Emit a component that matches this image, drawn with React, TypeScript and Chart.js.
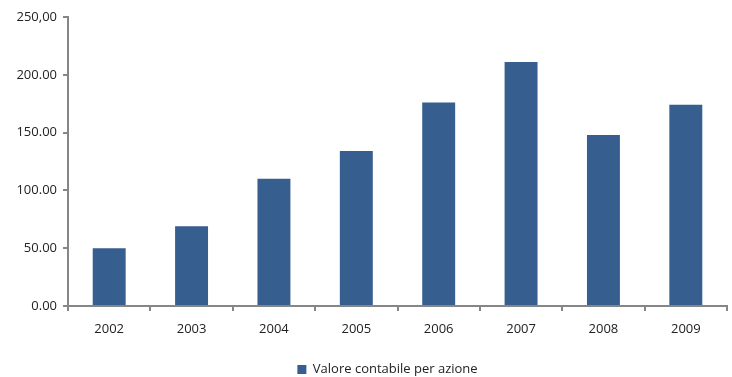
import React, { useEffect, useRef } from "react";
import { Chart, registerables } from "chart.js";

Chart.register(...registerables);

const categories = ["2002", "2003", "2004", "2005", "2006", "2007", "2008", "2009"];
const seriesName = "Valore contabile per azione";
const values = [50, 69, 110, 134, 176, 211, 148, 174];

const legendShift = {
  id: "legendShift",
  afterLayout(chart: any) {
    if (chart.legend) {
      chart.legend.left += 24;
      chart.legend.right += 24;
      if (chart.legend.adjustHitBoxes) chart.legend.adjustHitBoxes();
    }
  },
};

export default function App() {
  const ref = useRef<HTMLCanvasElement | null>(null);
  useEffect(() => {
    document.body.style.margin = "0";
    const ctx = ref.current!;
    const font = { family: "'Open Sans', 'Noto Sans', sans-serif", size: 13 };
    const axisColor = "#868686";
    const chart = new Chart(ctx, {
      type: "bar",
      data: {
        labels: categories,
        datasets: [
          {
            label: seriesName,
            data: values,
            backgroundColor: "#365E8F",
            borderColor: "#365E8F",
            borderWidth: 0,
            categoryPercentage: 1,
            barPercentage: 0.4,
          },
        ],
      },
      plugins: [legendShift],
      options: {
        responsive: false,
        animation: false,
        maintainAspectRatio: false,
        layout: { padding: { top: 17, right: 5, left: 0, bottom: -9 } },
        plugins: {
          tooltip: { enabled: false },
          legend: {
            position: "bottom",
            labels: {
              font,
              color: "#222",
              boxWidth: 9,
              boxHeight: 9,
              padding: 3,
            },
          },
        },
        scales: {
          x: {
            offset: true,
            grid: {
              offset: true,
              drawOnChartArea: false,
              drawTicks: true,
              tickLength: 5,
              color: axisColor,
              lineWidth: 2,
            },
            border: { color: axisColor, width: 2 },
            afterFit: (s: any) => {
              s.height = 54;
            },
            ticks: { font, color: "#222", padding: 10, maxRotation: 0 },
          },
          y: {
            min: 0,
            max: 250,
            grid: {
              drawOnChartArea: false,
              drawTicks: true,
              tickLength: 5,
              color: axisColor,
              lineWidth: 2,
            },
            border: { color: axisColor, width: 2 },
            afterFit: (s: any) => {
              s.width = 68;
            },
            ticks: {
              stepSize: 50,
              font,
              color: "#222",
              padding: 6,
              callback: (v: any) => (Number(v) === 250 ? "250,00" : Number(v).toFixed(2)),
            },
          },
        },
      },
    });
    return () => chart.destroy();
  }, []);
  return (
    <div style={{ width: 732, height: 377 }}>
      <canvas ref={ref} width={732} height={377} style={{ display: "block" }} />
    </div>
  );
}
